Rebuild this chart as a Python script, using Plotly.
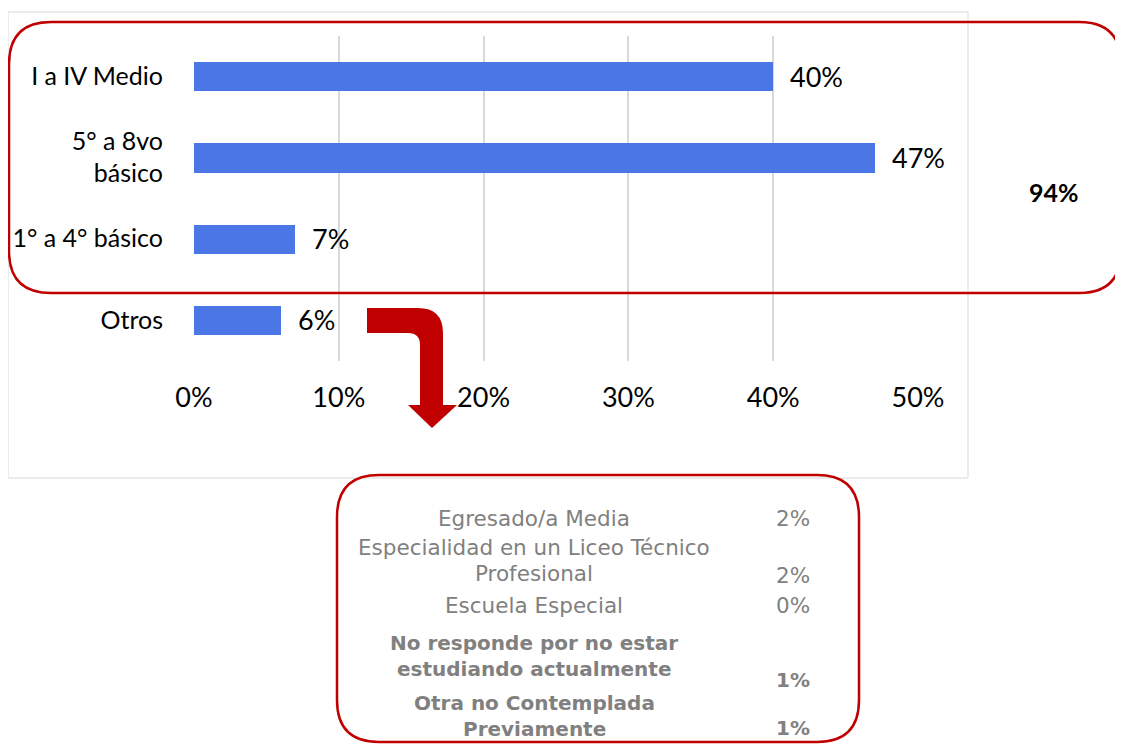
import plotly.graph_objects as go

# main bar chart data
categories = ["I a IV Medio", "5° a 8vo<br>básico", "1° a 4° básico", "Otros"]
values = [0.40, 0.47, 0.07, 0.06]
x_tickvals = [0, 0.1, 0.2, 0.3, 0.4, 0.5]
total_label = "94%"

# breakdown of "Otros"
sub_labels = ["Egresado/a Media",
              "Especialidad en un Liceo Técnico<br>Profesional",
              "Escuela Especial",
              "No responde por no estar<br>estudiando actualmente",
              "Otra no Contemplada<br>Previamente"]
sub_values = [0.02, 0.02, 0.00, 0.01, 0.01]

# the page puts the plot 8px in from the top-left, so work in screen pixels
OFF = 8
W, H = 1123 - OFF, 744 - OFF
RED = "#C00000"
BLUE = "#4A76E6"
GRID = "#D9D9D9"
FONT = "Lato"
SUBFONT = "DejaVu Sans"


def fx(x):
    return (x - OFF) / W


def fy(y):
    return 1 - (y - OFF) / H


def path(points):
    # points: list of (cmd, [x, y, ...]) in screen pixels -> paper path
    out = []
    for cmd, coords in points:
        if cmd == "Z":
            out.append("Z")
            continue
        pts = []
        for i in range(0, len(coords), 2):
            pts.append(f"{fx(coords[i]):.5f},{fy(coords[i + 1]):.5f}")
        out.append(cmd + " ".join(pts))
    return " ".join(out)


def rounded_rect(x0, y0, x1, y1, r):
    return path([("M", [x0 + r, y0]), ("L", [x1 - r, y0]), ("Q", [x1, y0, x1, y0 + r]),
                 ("L", [x1, y1 - r]), ("Q", [x1, y1, x1 - r, y1]),
                 ("L", [x0 + r, y1]), ("Q", [x0, y1, x0, y1 - r]),
                 ("L", [x0, y0 + r]), ("Q", [x0, y0, x0 + r, y0]), ("Z", [])])


fig = go.Figure()
fig.add_trace(go.Bar(y=categories, x=values, orientation="h",
                     marker=dict(color=BLUE, line=dict(width=0)),
                     width=0.36, hoverinfo="skip"))

annotations = []
for c, v in zip(categories, values):
    annotations.append(dict(x=v, y=c, xref="x", yref="y", text=f"{v:.0%}",
                            showarrow=False, xanchor="left", xshift=15,
                            font=dict(family=FONT, size=27, color="#000000")))

annotations.append(dict(x=fx(1054), y=fy(192), xref="paper", yref="paper",
                        text=f"<b>{total_label}</b>", showarrow=False,
                        xanchor="center", yanchor="middle",
                        font=dict(family=FONT, size=25, color="#000000")))

# sub box text
label_y = [518, 547, 605, 643, 703]
value_y = [518, 575, 605, 680, 728]
bold = [False, False, False, True, True]
for lab, val, ly, vy, b in zip(sub_labels, sub_values, label_y, value_y, bold):
    size = 20 if b else 21.5
    for i, line in enumerate(lab.split("<br>")):
        t = f"<b>{line}</b>" if b else line
        annotations.append(dict(x=fx(534), y=fy(ly + i * 26), xref="paper", yref="paper",
                                text=t, showarrow=False, xanchor="center", yanchor="middle",
                                font=dict(family=SUBFONT, size=size, color="#808080")))
    vt = f"{val:.0%}"
    annotations.append(dict(x=fx(793), y=fy(vy), xref="paper", yref="paper",
                            text=f"<b>{vt}</b>" if b else vt, showarrow=False,
                            xanchor="center", yanchor="middle",
                            font=dict(family=SUBFONT, size=size, color="#808080")))

arrow = path([("M", [367, 308]), ("L", [418, 308]), ("Q", [443, 308, 443, 333]),
              ("L", [443, 405]), ("L", [457, 405]), ("L", [432, 428]), ("L", [408, 405]),
              ("L", [420, 405]), ("L", [420, 345]), ("Q", [420, 333, 408, 333]),
              ("L", [367, 333]), ("Z", [])])

shapes = [
    dict(type="rect", xref="paper", yref="paper", x0=fx(8), x1=fx(968),
         y0=fy(478), y1=fy(12), line=dict(color=GRID, width=1), layer="below"),
    dict(type="path", xref="paper", yref="paper", path=rounded_rect(9, 22, 1121, 293, 42),
         line=dict(color=RED, width=2.5)),
    dict(type="path", xref="paper", yref="paper", path=rounded_rect(337, 475, 859, 742, 42),
         line=dict(color=RED, width=2.5)),
    dict(type="path", xref="paper", yref="paper", path=arrow,
         fillcolor=RED, line=dict(width=0)),
]

fig.update_layout(
    width=W, height=H,
    margin=dict(l=0, r=0, t=0, b=0, autoexpand=False),
    paper_bgcolor="white", plot_bgcolor="white",
    showlegend=False,
    bargap=0,
    xaxis=dict(domain=[fx(194), fx(918)], range=[0, 0.5], tickvals=x_tickvals,
               tickformat=".0%", showgrid=True, gridcolor=GRID, gridwidth=1.5,
               zeroline=False, showline=False, ticks="", ticklabelstandoff=18,
               automargin=False,
               tickfont=dict(family=FONT, size=27, color="#000000")),
    yaxis=dict(domain=[fy(360.5), fy(35.5)], categoryorder="array",
               categoryarray=categories, range=[3.5, -0.5], showgrid=False,
               zeroline=False, showline=False, ticks="", ticklabelstandoff=30,
               automargin=False,
               tickfont=dict(family=FONT, size=25, color="#000000")),
    annotations=annotations,
    shapes=shapes,
)

fig.write_html("out.html")
